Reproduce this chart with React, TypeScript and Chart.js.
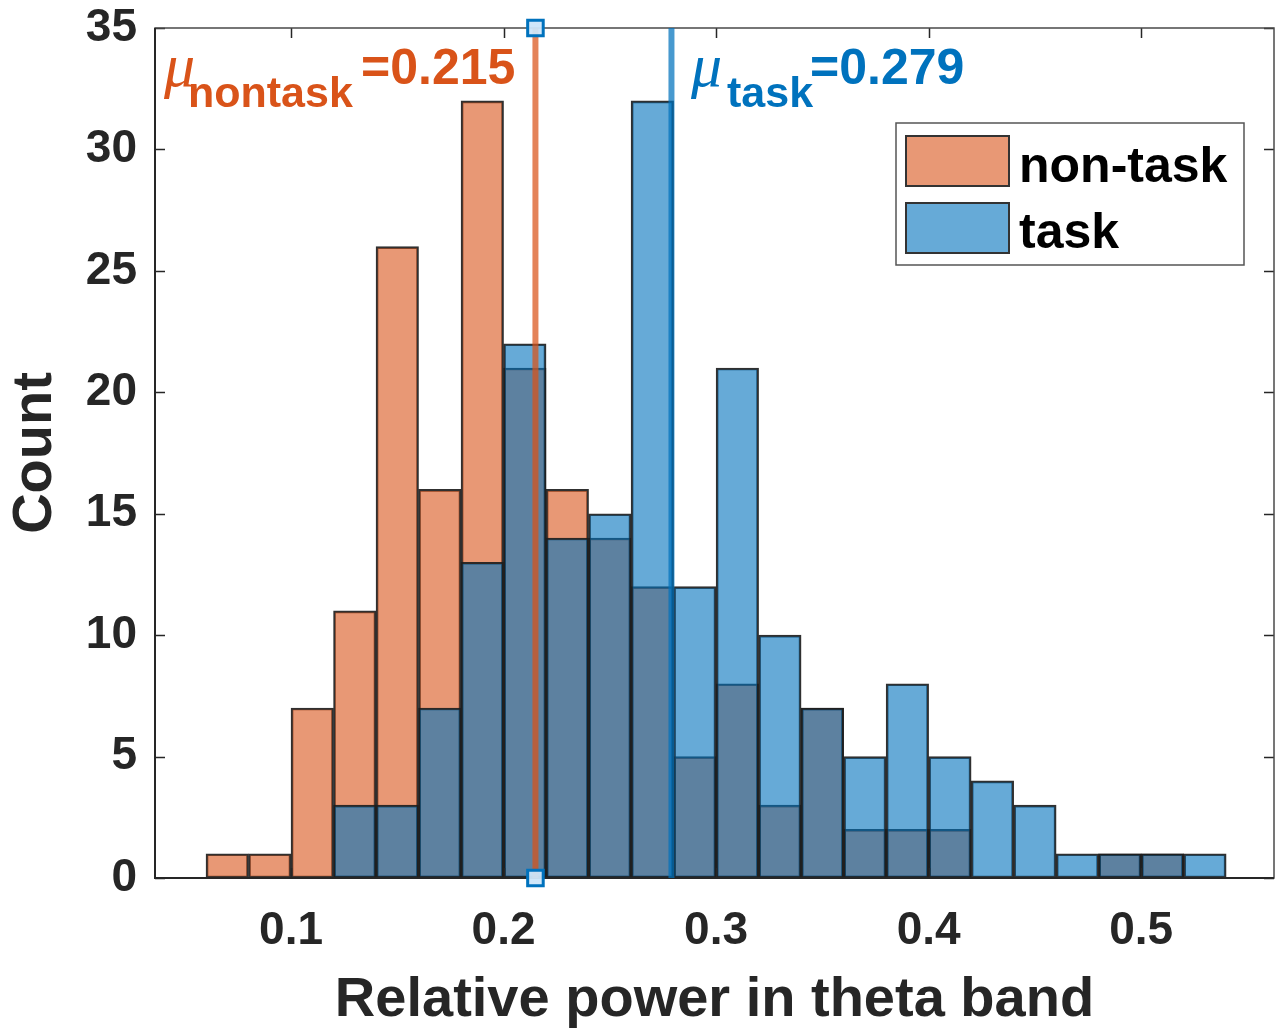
import React, { useEffect, useRef } from 'react';
import { Chart, registerables } from 'chart.js';

Chart.register(...registerables);

// ---- data ----
const binEdges = [0.06, 0.08, 0.10, 0.12, 0.14, 0.16, 0.18, 0.20, 0.22, 0.24, 0.26, 0.28, 0.30,
  0.32, 0.34, 0.36, 0.38, 0.40, 0.42, 0.44, 0.46, 0.48, 0.50, 0.52, 0.54];
const nonTaskCounts = [1, 1, 7, 11, 26, 16, 32, 21, 16, 14, 12, 5, 8, 3, 7, 2, 2, 2, 0, 0, 0, 1, 1, 0];
const taskCounts = [0, 0, 0, 3, 3, 7, 13, 22, 14, 15, 32, 12, 21, 10, 7, 5, 8, 5, 4, 3, 1, 1, 1, 1];
const seriesNames = ['non-task', 'task'];
const meanNonTask = 0.215;
const meanTask = 0.279;
const xTickValues = [0.1, 0.2, 0.3, 0.4, 0.5];
const xMin = 0.036;
const xMax = 0.5625;
const yMin = 0;
const yMax = 35;
const yStep = 5;
const xTitle = 'Relative power in theta band';
const yTitle = 'Count';

// ---- styles ----
const ORANGE = 'rgb(217,83,25)';
const BLUE = 'rgb(0,114,189)';
const ORANGE_FILL = 'rgba(217,83,25,0.6)';
const BLUE_FILL = 'rgba(0,114,189,0.6)';
const EDGE = 'rgba(30,30,30,0.92)';
const AXIS = '#262626';
const FONT = '"Liberation Sans", Arial, sans-serif';

const toBars = (counts: number[]) =>
  counts.map((c, i) => ({ x: (binEdges[i] + binEdges[i + 1]) / 2, y: c === 0 ? null : c }));

const decorPlugin = {
  id: 'decor',
  afterDatasetDraw(chart: any, args: any) {
    if (args.index !== 1) return;
    const { ctx, chartArea: a, scales } = chart;
    ctx.save();
    // inward ticks
    ctx.strokeStyle = AXIS;
    ctx.lineWidth = 1.5;
    const tl = 10;
    ctx.beginPath();
    for (const v of xTickValues) {
      const px = Math.round(scales.x.getPixelForValue(v)) + 0.5;
      ctx.moveTo(px, a.bottom); ctx.lineTo(px, a.bottom - tl);
      ctx.moveTo(px, a.top); ctx.lineTo(px, a.top + tl);
    }
    for (let v = yMin; v <= yMax; v += yStep) {
      const py = Math.round(scales.y.getPixelForValue(v)) + 0.5;
      ctx.moveTo(a.left, py); ctx.lineTo(a.left + tl, py);
      ctx.moveTo(a.right, py); ctx.lineTo(a.right - tl, py);
    }
    ctx.stroke();
    // box
    ctx.strokeStyle = '#4a4a4a';
    ctx.lineWidth = 1.5;
    ctx.strokeRect(a.left, a.top, a.right - a.left, a.bottom - a.top);
    ctx.strokeStyle = AXIS;
    ctx.lineWidth = 2;
    ctx.beginPath();
    ctx.moveTo(a.left, a.top); ctx.lineTo(a.left, a.bottom); ctx.lineTo(a.right, a.bottom);
    ctx.stroke();
    ctx.restore();
  },
  afterDraw(chart: any) {
    const { ctx } = chart;
    ctx.save();
    // legend
    const lx = 896, ly = 123, lw = 348, lh = 142;
    ctx.fillStyle = '#ffffff';
    ctx.fillRect(lx, ly, lw, lh);
    ctx.strokeStyle = '#555555';
    ctx.lineWidth = 1.5;
    ctx.strokeRect(lx, ly, lw, lh);
    const items = [
      { name: seriesNames[0], fill: ORANGE_FILL, top: 136, base: 182 },
      { name: seriesNames[1], fill: BLUE_FILL, top: 203, base: 248 },
    ];
    for (const it of items) {
      ctx.fillStyle = '#ffffff';
      ctx.fillRect(906, it.top, 103, 50);
      ctx.fillStyle = it.fill;
      ctx.fillRect(906, it.top, 103, 50);
      ctx.strokeStyle = '#333333';
      ctx.lineWidth = 2;
      ctx.strokeRect(906, it.top, 103, 50);
      ctx.fillStyle = '#000000';
      ctx.font = `bold 50px ${FONT}`;
      ctx.textAlign = 'left';
      ctx.textBaseline = 'alphabetic';
      ctx.fillText(it.name, 1019, it.base);
    }
    // mean labels
    const drawMu = (color: string, muX: number, subX: number, valX: number, sub: string, val: number) => {
      ctx.fillStyle = color;
      ctx.textAlign = 'left';
      ctx.textBaseline = 'alphabetic';
      ctx.font = `italic 62px "Liberation Serif", serif`;
      ctx.fillText('μ', muX, 86);
      ctx.font = `bold 43px ${FONT}`;
      ctx.fillText(sub, subX, 107);
      ctx.font = `bold 50px ${FONT}`;
      ctx.fillText('=' + val.toFixed(3), valX, 84);
    };
    drawMu(ORANGE, 164, 188, 361, 'nontask', meanNonTask);
    drawMu(BLUE, 691, 727, 810, 'task', meanTask);
    ctx.restore();
  },
};

export default function App() {
  const ref = useRef<HTMLCanvasElement>(null);
  useEffect(() => {
    const chart = new Chart(ref.current as HTMLCanvasElement, {
      type: 'bar',
      data: {
        datasets: [
          {
            type: 'bar',
            label: seriesNames[0],
            data: toBars(nonTaskCounts) as any,
            backgroundColor: ORANGE_FILL,
            borderColor: EDGE,
            borderWidth: 2,
            borderSkipped: false,
            barPercentage: 1,
            categoryPercentage: 1,
            grouped: false,
            order: 3,
          } as any,
          {
            type: 'bar',
            label: seriesNames[1],
            data: toBars(taskCounts) as any,
            backgroundColor: BLUE_FILL,
            borderColor: EDGE,
            borderWidth: 2,
            borderSkipped: false,
            barPercentage: 1,
            categoryPercentage: 1,
            grouped: false,
            order: 2,
          } as any,
          {
            type: 'line',
            label: 'mean task',
            data: [{ x: meanTask, y: yMin }, { x: meanTask, y: yMax }],
            borderColor: 'rgba(0,114,189,0.72)',
            borderWidth: 6,
            pointRadius: 0,
            clip: false,
            order: 1,
          } as any,
          {
            type: 'line',
            label: 'mean non-task',
            data: [{ x: meanNonTask, y: yMin }, { x: meanNonTask, y: yMax }],
            borderColor: 'rgba(217,83,25,0.72)',
            borderWidth: 6,
            pointStyle: 'rect',
            pointRadius: 11,
            pointBackgroundColor: 'rgba(205,230,250,0.95)',
            pointBorderColor: BLUE,
            pointBorderWidth: 3,
            clip: false,
            order: 0,
          } as any,
        ],
      },
      options: {
        animation: false,
        responsive: false,
        devicePixelRatio: 1,
        events: [],
        layout: { padding: { top: 28, right: 10, left: 0, bottom: 0 } },
        plugins: { legend: { display: false }, tooltip: { enabled: false } },
        scales: {
          x: {
            type: 'linear',
            min: xMin,
            max: xMax,
            offset: false,
            grid: { display: false, drawTicks: false, tickLength: 0 },
            border: { display: false },
            afterBuildTicks: (s: any) => { s.ticks = xTickValues.map((v) => ({ value: v })); },
            afterFit: (s: any) => { s.height = 158; s.paddingLeft = 0; s.paddingRight = 0; },
            ticks: {
              padding: 26,
              color: AXIS,
              font: { family: FONT, size: 46, weight: 'bold' },
              maxRotation: 0,
              callback: (v: any) => Number(v).toFixed(1),
            },
            title: {
              display: true,
              text: xTitle,
              color: AXIS,
              font: { family: FONT, size: 56, weight: 'bold' },
              padding: { top: 0, bottom: 2 },
            },
          },
          y: {
            type: 'linear',
            min: yMin,
            max: yMax,
            grid: { display: false, drawTicks: false, tickLength: 0 },
            border: { display: false },
            afterFit: (s: any) => { s.width = 155; s.paddingTop = 0; s.paddingBottom = 0; },
            ticks: {
              stepSize: yStep,
              padding: 18,
              color: AXIS,
              font: { family: FONT, size: 46, weight: 'bold' },
            },
            title: {
              display: true,
              text: yTitle,
              color: AXIS,
              font: { family: FONT, size: 56, weight: 'bold' },
              padding: { top: 2, bottom: 0 },
            },
          },
        },
      } as any,
      plugins: [decorPlugin as any],
    });
    return () => chart.destroy();
  }, []);
  return (
    <div style={{ position: 'fixed', left: 0, top: 0, width: 1288, height: 1036, background: '#ffffff' }}>
      <canvas ref={ref} width={1288} height={1036} style={{ display: 'block', width: 1288, height: 1036 }} />
    </div>
  );
}
